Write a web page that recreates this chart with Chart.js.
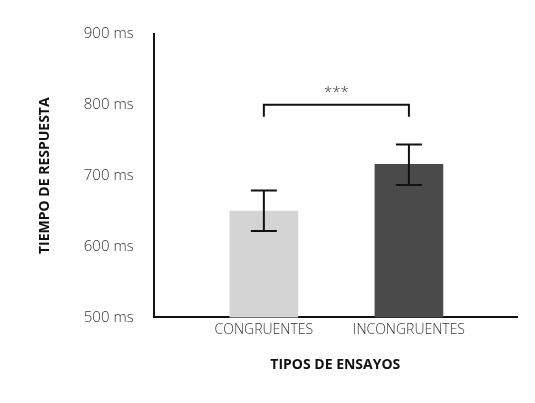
<!DOCTYPE html>
<html><head><meta charset="utf-8">
<script src="https://cdn.jsdelivr.net/npm/chart.js@4"></script>
<style>body{margin:0;background:#fff}#wrap{width:535px;height:403px}</style>
</head><body><div id="wrap"><canvas id="c"></canvas></div>
<script>
const categories = ['CONGRUENTES', 'INCONGRUENTES'];
const means = [650, 716];
const errLow = [622, 687];
const errHigh = [679, 744];
const barColors = ['#d4d4d4', '#4a4a4a'];
const sigLevel = 800;
const sigLabel = '***';

const errorBars = {
  id: 'errorBars',
  afterDatasetsDraw(chart) {
    const { ctx, scales: { x, y } } = chart;
    ctx.save();
    ctx.strokeStyle = '#111';
    ctx.lineWidth = 2;
    means.forEach((m, i) => {
      const cx = x.getPixelForValue(i);
      const t = y.getPixelForValue(errHigh[i]), b = y.getPixelForValue(errLow[i]);
      ctx.beginPath();
      ctx.moveTo(cx, t); ctx.lineTo(cx, b);
      ctx.moveTo(cx - 13, t); ctx.lineTo(cx + 13, t);
      ctx.moveTo(cx - 13, b); ctx.lineTo(cx + 13, b);
      ctx.stroke();
    });
    const x0 = x.getPixelForValue(0), x1 = x.getPixelForValue(1);
    const sy = y.getPixelForValue(sigLevel);
    ctx.beginPath();
    ctx.moveTo(x0, sy + 12); ctx.lineTo(x0, sy); ctx.lineTo(x1, sy); ctx.lineTo(x1, sy + 12);
    ctx.stroke();
    ctx.fillStyle = '#333';
    ctx.font = '300 15px "Open Sans"';
    ctx.textAlign = 'center';
    ctx.fillText(sigLabel, (x0 + x1) / 2, sy - 8);
    ctx.restore();
  }
};

new Chart(document.getElementById('c'), {
  type: 'bar',
  data: {
    datasets: [{
      data: means.map((v, i) => ({ x: i, y: v })),
      backgroundColor: barColors,
      barThickness: 68
    }]
  },
  options: {
    responsive: true,
    maintainAspectRatio: false,
    animation: false,
    layout: { padding: { top: 34, right: 18, left: 33, bottom: 26 } },
    plugins: { legend: { display: false }, tooltip: { enabled: false } },
    scales: {
      x: {
        type: 'linear', min: -0.76, max: 1.745, offset: false, bounds: 'ticks',
        afterBuildTicks: s => { s.ticks = [{ value: 0 }, { value: 1 }]; },
        ticks: { callback: v => categories[v], color: '#333', font: { family: 'Open Sans', size: 14, weight: 300 }, padding: 4 },
        grid: { display: false, drawTicks: false, offset: false },
        border: { color: '#111', width: 2 },
        title: { display: true, text: 'TIPOS DE ENSAYOS', color: '#111', font: { family: 'Open Sans', size: 14, weight: 'bold' }, padding: { top: 14 } }
      },
      y: {
        min: 500, max: 900,
        ticks: { stepSize: 100, callback: v => v + ' ms', color: '#333', font: { family: 'Open Sans', size: 15, weight: 300 }, padding: 10 },
        grid: { display: false, drawTicks: true, tickLength: 10, tickColor: '#111', tickWidth: 2 },
        border: { color: '#111', width: 2 },
        title: { display: true, text: 'TIEMPO DE RESPUESTA', color: '#111', font: { family: 'Open Sans', size: 14, weight: 'bold' }, padding: { bottom: 20 } }
      }
    }
  },
  plugins: [errorBars]
});
</script></body></html>
